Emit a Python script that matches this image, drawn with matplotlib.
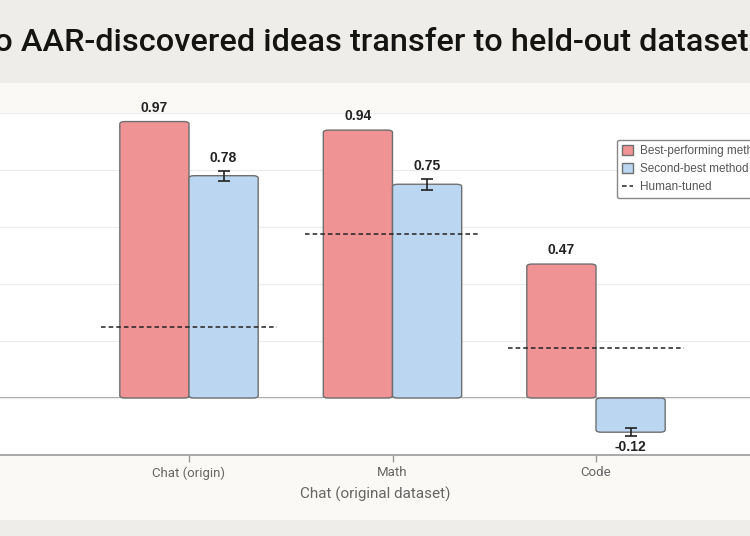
import matplotlib
matplotlib.use("Agg")
import matplotlib.pyplot as plt
from matplotlib.patches import Rectangle, FancyBboxPatch, Patch
from matplotlib.lines import Line2D
import numpy as np

categories = ["Chat (origin)", "Math", "Code"]
best_vals = [0.97, 0.94, 0.47]
second_vals = [0.78, 0.75, -0.12]
second_err = [0.017, 0.02, 0.014]
human_vals = [0.25, 0.575, 0.175]
series_names = ["Best-performing method", "Second-best method", "Human-tuned"]
title = "Do AAR-discovered ideas transfer to held-out datasets?"
xlabel = "Chat (original dataset)"

RED = "#f09394"
BLUE = "#bad6f1"
EDGE = "#6f6f6f"
BAND = "#efede9"
SURROUND = "#faf9f6"

plt.rcParams['font.family'] = ['Liberation Sans Narrow', 'Roboto', 'DejaVu Sans']

fig = plt.figure(figsize=(7.5, 5.36), dpi=100, facecolor=BAND)
W, H = 750, 536
fig.patches.append(Rectangle((0, 1 - 520 / H), 1, (520 - 83) / H, transform=fig.transFigure,
                             facecolor=SURROUND, edgecolor="none", zorder=-5))

ax = fig.add_axes([0, 1 - 455 / H, 1, (455 - 113) / H])
ax.set_zorder(2)
ax.set_facecolor("white")
x = np.arange(len(categories))
w = 0.34
ax.set_xlim(-189 / 203.5, (750 - 189) / 203.5)
ax.set_ylim(-0.2, 1.0)

ax.set_yticks([0, 0.2, 0.4, 0.6, 0.8, 1.0])
ax.tick_params(axis='y', left=False, labelleft=False)
ax.grid(axis='y', color="#ececec", lw=0.8, zorder=0)
ax.axhline(0, color="#9a9a9a", lw=1.2, zorder=1)
for s in ["left", "right", "top"]:
    ax.spines[s].set_visible(False)
ax.spines["bottom"].set_color("#9a9a9a")
ax.spines["bottom"].set_linewidth(1.2)

def rounded(bars, color):
    for b in bars:
        b.set_visible(False)
        x0, y0 = b.get_x(), b.get_y()
        bw, bh = b.get_width(), b.get_height()
        p = FancyBboxPatch((x0, min(y0, y0 + bh)), bw, abs(bh),
                           boxstyle="round,pad=0,rounding_size=0.025",
                           mutation_aspect=1 / 3.0,
                           facecolor=color, edgecolor=EDGE, lw=1.0, zorder=3)
        ax.add_patch(p)

b1 = ax.bar(x - w / 2, best_vals, w, color=RED, edgecolor=EDGE, lw=1.0, zorder=3)
b2 = ax.bar(x + w / 2, second_vals, w, color=BLUE, edgecolor=EDGE, lw=1.0, zorder=3)
rounded(b1, RED)
rounded(b2, BLUE)
ax.errorbar(x + w / 2, second_vals, yerr=second_err, fmt="none", ecolor="#222222",
            elinewidth=1.2, capsize=4, capthick=1.2, zorder=4)

for i in range(len(categories)):
    ax.hlines(human_vals[i], x[i] - 0.43, x[i] + 0.43, colors="#222222", linestyles=(0, (3, 2)),
              lw=1.1, zorder=5)

lab_kw = dict(ha="center", fontsize=10, fontweight="bold", color="#222222",
              family=["Liberation Sans", "DejaVu Sans"])
for i, v in enumerate(best_vals):
    ax.annotate(f"{v:.2f}", (x[i] - w / 2, v), xytext=(0, 5), textcoords="offset points",
                va="bottom", **lab_kw)
for i, v in enumerate(second_vals):
    if v >= 0:
        ax.annotate(f"{v:.2f}", (x[i] + w / 2, v + second_err[i]), xytext=(0, 4),
                    textcoords="offset points", va="bottom", **lab_kw)
    else:
        ax.annotate(f"{v:.2f}", (x[i] + w / 2, v - second_err[i]), xytext=(0, -3),
                    textcoords="offset points", va="top", **lab_kw)

ax.set_xticks(x)
ax.set_xticklabels(categories, fontsize=9.5, color="#666666")
ax.tick_params(axis='x', length=5, color="#9a9a9a", width=1.0, pad=3)
ax.set_xlabel(xlabel, fontsize=11, color="#666666", labelpad=5)

handles = [Patch(facecolor=RED, edgecolor=EDGE, label=series_names[0]),
           Patch(facecolor=BLUE, edgecolor=EDGE, label=series_names[1]),
           Line2D([], [], color="#222222", ls=(0, (3, 2)), lw=1.1, label=series_names[2])]
leg = ax.legend(handles=handles, loc="upper left", bbox_to_anchor=(617 / W, 1 - 140 / H),
                bbox_transform=fig.transFigure, frameon=True, fancybox=True,
                edgecolor="#888888", facecolor="white", framealpha=1, handlelength=0.9,
                handleheight=0.9, handletextpad=0.6, borderpad=0.45, labelspacing=0.5,
                borderaxespad=0,
                prop={'family': ['Liberation Sans', 'DejaVu Sans'], 'size': 8.5})
for t in leg.get_texts():
    t.set_color("#555555")

fig.text(377 / W, 1 - 42 / H, title, ha="center", va="center", fontsize=23.4, fontweight="medium",
         color="#141413", family=["Roboto", "DejaVu Sans"])

fig.savefig("out.png", dpi=100, facecolor=fig.get_facecolor())
